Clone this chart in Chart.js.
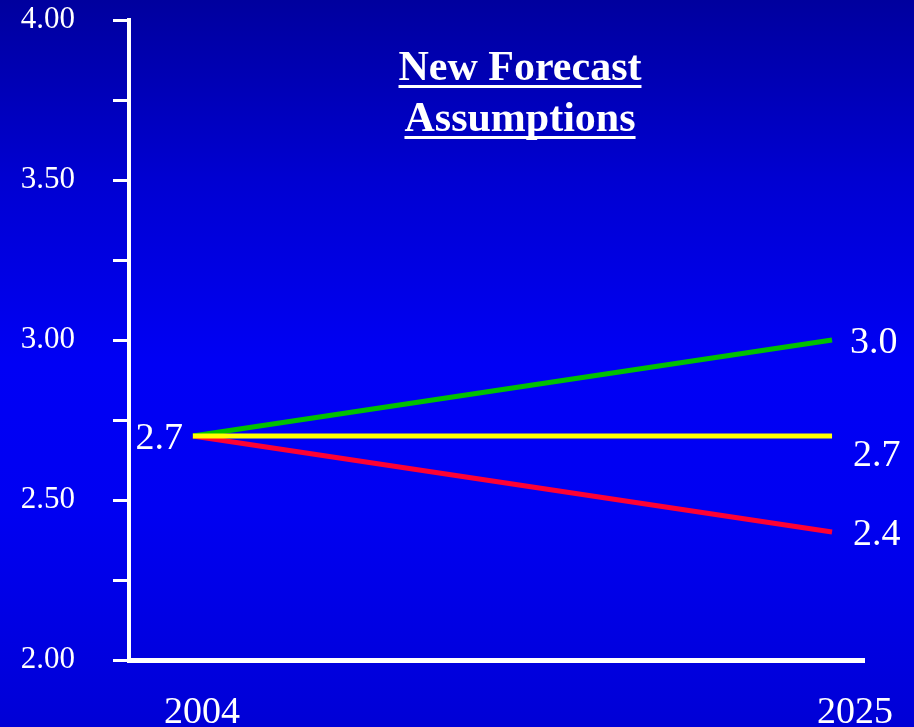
<!DOCTYPE html>
<html>
<head>
<meta charset="utf-8">
<script src="https://cdn.jsdelivr.net/npm/chart.js@4"></script>
<style>
  html, body { margin: 0; padding: 0; }
  body {
    width: 914px; height: 727px; overflow: hidden;
    background: linear-gradient(to bottom, #00009e 0%, #0000d2 25%, #0000f5 50%, #0000f2 70%, #0000d6 100%);
  }
  #wrap { width: 914px; height: 727px; }
</style>
</head>
<body>
<div id="wrap"><canvas id="forecastChart"></canvas></div>
<script>
// years on the x axis
const years = [2004, 2025];
const xLabels = ['2004', '2025'];

// forecast scenarios (yellow first so it is drawn on top)
const flatValues = [2.7, 2.7];
const highValues = [2.7, 3.0];
const lowValues = [2.7, 2.4];

const startLabel = '2.7';
const endLabels = ['3.0', '2.7', '2.4'];

const titleLines = ['New Forecast', 'Assumptions'];

const serif = '"Liberation Serif", "Times New Roman", serif';

function toPoints(values) {
    return values.map((v, i) => ({ x: years[i], y: v }));
}

// draws the title, year labels and value labels
const textPlugin = {
    id: 'textPlugin',
    afterDraw(chart) {
        const ctx = chart.ctx;
        const xs = chart.scales.x;
        const ys = chart.scales.y;
        ctx.save();
        ctx.fillStyle = '#ffffff';

        // title, bold and underlined
        ctx.font = 'bold 42px ' + serif;
        ctx.textAlign = 'center';
        ctx.textBaseline = 'alphabetic';
        const cx = 520;
        titleLines.forEach((line, i) => {
            const y = 80 + i * 51;
            ctx.fillText(line, cx, y);
            const w = ctx.measureText(line).width;
            ctx.fillRect(cx - w / 2, y + 5, w, 3);
        });

        // year labels under the axis
        ctx.font = '38px ' + serif;
        ctx.textBaseline = 'middle';
        const shifts = [9, 23];
        years.forEach((yr, i) => {
            ctx.fillText(xLabels[i], xs.getPixelForValue(yr) + shifts[i], 713);
        });

        // value labels
        ctx.textAlign = 'right';
        ctx.fillText(startLabel, xs.getPixelForValue(years[0]) - 10, ys.getPixelForValue(2.7) + 3);
        ctx.textAlign = 'left';
        const endX = xs.getPixelForValue(years[1]) + 18;
        ctx.fillText(endLabels[0], endX, ys.getPixelForValue(highValues[1]) + 3);
        ctx.fillText(endLabels[1], endX + 3, ys.getPixelForValue(flatValues[1]) + 20);
        ctx.fillText(endLabels[2], endX + 3, ys.getPixelForValue(lowValues[1]) + 3);
        ctx.restore();
    }
};

const ctx = document.getElementById('forecastChart').getContext('2d');
new Chart(ctx, {
    type: 'line',
    data: {
        datasets: [
            { data: toPoints(flatValues), borderColor: '#ffff00', borderWidth: 5 },
            { data: toPoints(highValues), borderColor: '#00c000', borderWidth: 5 },
            { data: toPoints(lowValues), borderColor: '#ff0033', borderWidth: 5 }
        ]
    },
    options: {
        responsive: true,
        maintainAspectRatio: false,
        animation: false,
        elements: { point: { radius: 0 }, line: { tension: 0, borderCapStyle: 'butt' } },
        layout: { padding: { top: 20, right: 50, left: 0, bottom: 0 } },
        plugins: { legend: { display: false }, tooltip: { enabled: false } },
        scales: {
            x: {
                type: 'linear',
                min: 2001.9,
                max: 2026.05,
                ticks: { display: false },
                grid: { display: false, drawTicks: false },
                border: { color: '#ffffff', width: 5 },
                afterFit(scale) { scale.height = 67; }
            },
            y: {
                min: 2,
                max: 4,
                ticks: {
                    stepSize: 0.25,
                    color: '#ffffff',
                    padding: 38,
                    font: { family: serif, size: 31 },
                    callback: v => (Math.round(v * 100) % 50 === 0 ? v.toFixed(2) : '')
                },
                grid: { drawOnChartArea: false, tickLength: 16, tickColor: '#ffffff', tickWidth: 3 },
                border: { color: '#ffffff', width: 4 },
                afterFit(scale) {
                    scale.width = 129;
                    scale.paddingTop = 0;
                    scale.paddingBottom = 0;
                }
            }
        }
    },
    plugins: [textPlugin]
});
</script>
</body>
</html>
